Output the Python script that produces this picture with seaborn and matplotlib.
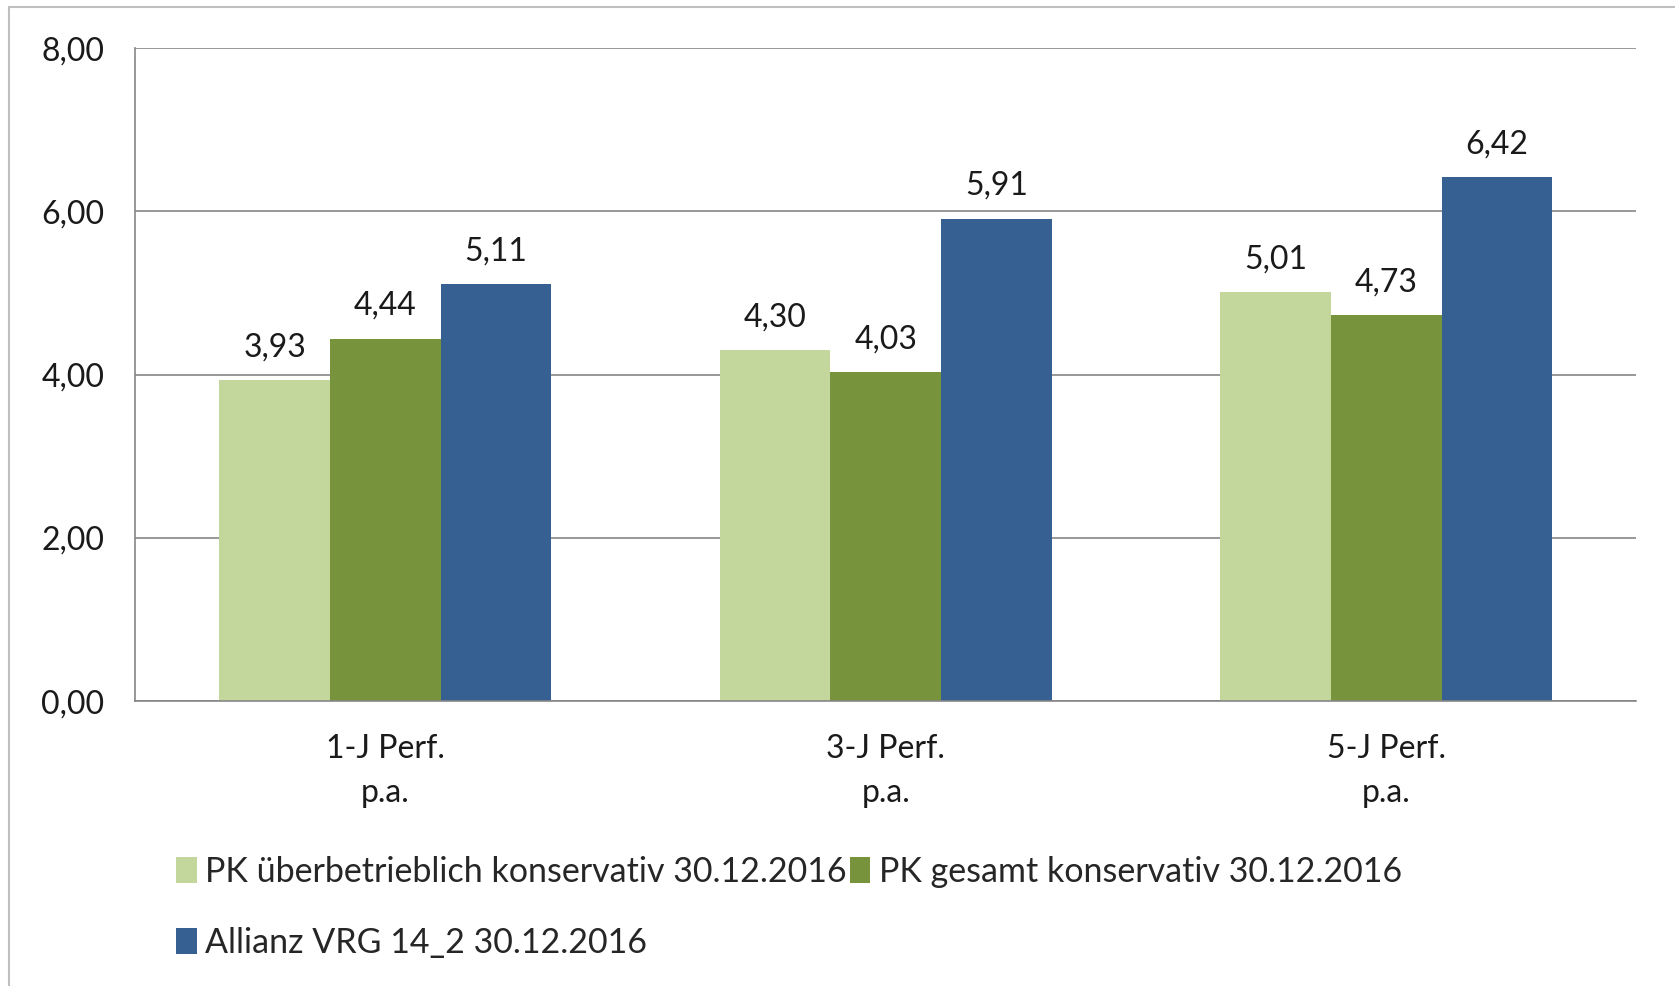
import pandas as pd
import matplotlib
matplotlib.use("Agg")
import matplotlib.pyplot as plt
import seaborn as sns
from matplotlib.ticker import FuncFormatter, FixedLocator
from matplotlib.patches import Rectangle

# data
categories = ["1-J Perf.\np.a.", "3-J Perf.\np.a.", "5-J Perf.\np.a."]
series = ["PK überbetrieblich konservativ 30.12.2016",
          "PK gesamt konservativ 30.12.2016",
          "Allianz VRG 14_2 30.12.2016"]
pk_ueberbetrieblich = [3.93, 4.30, 5.01]
pk_gesamt = [4.44, 4.03, 4.73]
allianz = [5.11, 5.91, 6.42]
colors = ["#C3D69B", "#77933C", "#376092"]

df = pd.DataFrame({
    "cat": categories * 3,
    "series": [series[0]] * 3 + [series[1]] * 3 + [series[2]] * 3,
    "value": pk_ueberbetrieblich + pk_gesamt + allianz,
})

sns.set_style("white")
plt.rcParams["font.family"] = ["Lato", "DejaVu Sans"]
FS = 23
TXT = "#1a1a1a"

fig = plt.figure(figsize=(16.75, 9.86), dpi=100)
ax = fig.add_axes([0.0806, 0.289, 0.8964, 0.662])

sns.barplot(data=df, x="cat", y="value", hue="series", hue_order=series,
            palette=colors, width=0.663, ax=ax, saturation=1, legend=True,
            linewidth=0)

for cont in ax.containers:
    labels = [f"{b.get_height():.2f}".replace(".", ",") for b in cont]
    ax.bar_label(cont, labels=labels, padding=13, fontsize=FS, color=TXT)

ax.set_ylim(0, 8)
ax.set_xlim(-0.5, 2.5)
ax.set_yticks([0, 2, 4, 6, 8])
ax.yaxis.set_major_formatter(FuncFormatter(lambda v, p: f"{v:.2f}".replace(".", ",")))
ax.yaxis.grid(True, color="#868686", linewidth=1.2)
ax.set_axisbelow(True)
ax.set_xlabel("")
ax.set_ylabel("")

ax.set_xticks(range(len(categories)))
ax.set_xticklabels(categories, linespacing=1.55)
ax.xaxis.set_minor_locator(FixedLocator([-0.5, 0.5, 1.5, 2.5]))
ax.tick_params(axis="x", which="major", length=0, pad=24, labelsize=FS, colors=TXT)
ax.tick_params(axis="x", which="minor", length=8, width=1.2, color="#868686")
ax.tick_params(axis="y", length=8, width=1.2, color="#868686", labelsize=FS,
               labelcolor=TXT, pad=14)

for side in ["top", "right"]:
    ax.spines[side].set_visible(False)
for side in ["left", "bottom"]:
    ax.spines[side].set_color("#868686")
    ax.spines[side].set_linewidth(1.2)

# legend: reorder so it fills row-wise like the original
handles, labs = ax.get_legend_handles_labels()
order = [0, 2, 1]
ax.legend([handles[i] for i in order], [labs[i] for i in order],
          ncol=2, frameon=False, fontsize=24.5, loc="upper left",
          bbox_to_anchor=(0.097, 0.146), bbox_transform=fig.transFigure,
          handlelength=0.6, handleheight=0.8, handletextpad=0.25,
          columnspacing=0.1, labelspacing=1.15, borderaxespad=0)

# outer frame
fig.patches.append(Rectangle((0.0054, -0.01), 1.1, 1.003, transform=fig.transFigure,
                             fill=False, edgecolor="#BFBFBF", linewidth=1.5))

fig.savefig("out.png", dpi=100)
